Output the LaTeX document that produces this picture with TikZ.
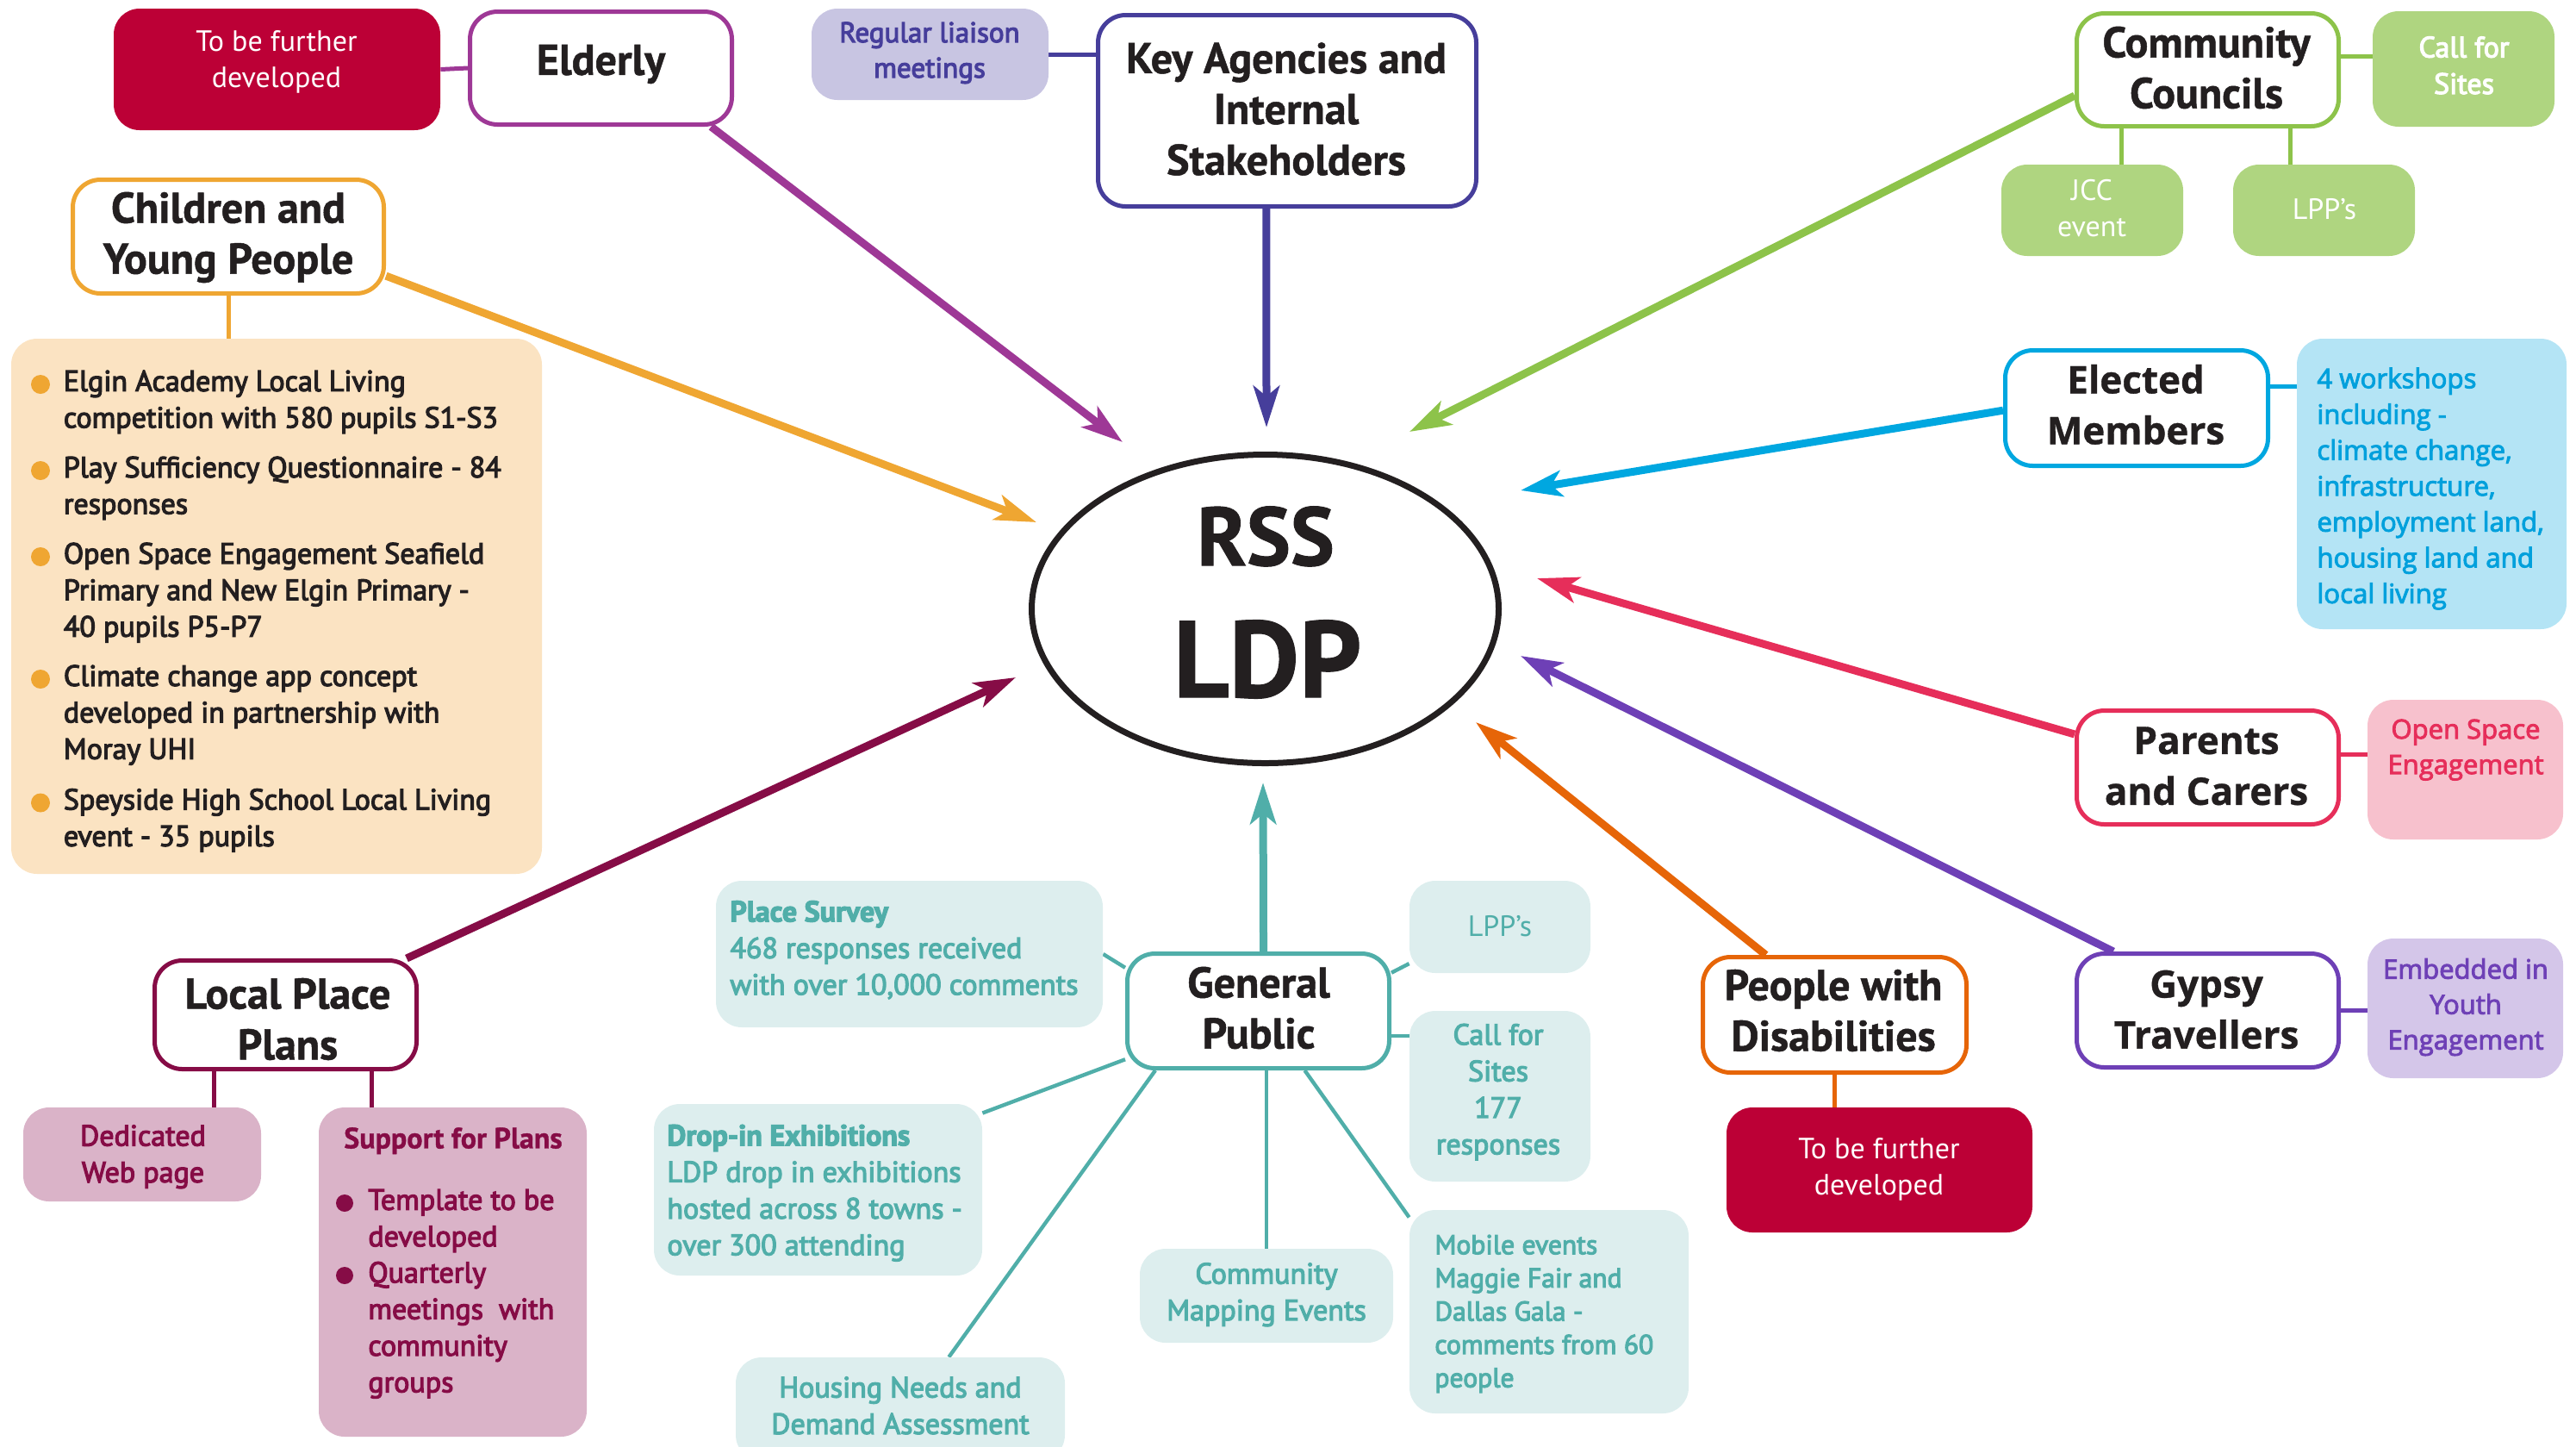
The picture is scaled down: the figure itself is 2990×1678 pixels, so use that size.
\documentclass[tikz,border=0pt]{standalone}
\usepackage{fontspec}
\setmainfont{PT Sans}[BoldFeatures={FakeBold=1}]
\newfontfamily\wide{Open Sans}[BoldFeatures={FakeBold=0.8}]
\newfontfamily\semi{PT Sans}[FakeBold=3.5]
\newfontfamily\wsemi{Open Sans}[FakeBold=3]
\usetikzlibrary{arrows.meta,shapes.geometric}
\pgfdeclarelayer{bg}
\pgfsetlayers{bg,main}
\definecolor{ink}{RGB}{35,31,32}
\definecolor{cRed}{RGB}{188,0,54}
\definecolor{cEld}{RGB}{158,56,150}
\definecolor{cKey}{RGB}{70,62,155}
\definecolor{cKeyF}{RGB}{200,197,226}
\definecolor{cGrn}{RGB}{141,195,74}
\definecolor{cGrnF}{RGB}{175,213,128}
\definecolor{cOra}{RGB}{239,166,50}
\definecolor{cOraF}{RGB}{251,227,194}
\definecolor{cCya}{RGB}{0,167,224}
\definecolor{cCyaT}{RGB}{0,160,220}
\definecolor{cCyaF}{RGB}{180,228,245}
\definecolor{cPnk}{RGB}{230,46,90}
\definecolor{cPnkF}{RGB}{247,193,205}
\definecolor{cPur}{RGB}{110,64,182}
\definecolor{cPurF}{RGB}{212,198,233}
\definecolor{cOrT}{RGB}{230,101,8}
\definecolor{cTeal}{RGB}{80,174,169}
\definecolor{cTealF}{RGB}{221,238,238}
\definecolor{cMar}{RGB}{134,12,70}
\definecolor{cMarF}{RGB}{218,179,200}
\newcommand\fTitle{\fontsize{25}{29.5}\selectfont\bfseries}
\newcommand\fWTitle{\wide\fontsize{22}{29.5}\selectfont\bfseries}
\newcommand\fSub{\fontsize{17}{21}\selectfont}
\newcommand\fSemi{\semi\fontsize{17}{21.2}\selectfont}
\newcommand\fWSemi{\wsemi\fontsize{15.5}{20.5}\selectfont}
\newcommand\fWS{\wsemi\fontsize{15.6}{20.8}\selectfont}
\newcommand\fMob{\semi\fontsize{15.8}{19.3}\selectfont}
\newcommand\fLiai{\semi\fontsize{16.5}{20.5}\selectfont}
\newcommand\fRSS{\fontsize{48}{50}\selectfont\bfseries}
\newcommand\fLDP{\fontsize{63}{66}\selectfont\bfseries}
\tikzset{
  box/.style={draw, line width=2.5pt, rounded corners=16pt, fill=white, inner sep=0pt},
  sub/.style={rounded corners=15pt, inner sep=0pt, draw=none},
  tx/.style={inner sep=0pt, align=center, execute at begin node=\strut, execute at end node=\strut, yshift=-3pt},
  ttl/.style={inner sep=0pt, align=center, execute at begin node=\strut, execute at end node=\strut, yshift=-4.5pt, text=ink},
  txl/.style={tx, align=left},
  arr/.style={line width=4.5pt, -{Stealth[length=24pt,width=15pt,inset=6pt]}},
  lnk/.style={line width=2.5pt},
  glnk/.style={line width=2.2pt, cTeal},
}
\begin{document}
\begin{tikzpicture}[x=0.5pt,y=-0.5pt]
\useasboundingbox (0,0) rectangle (2990,1678);
\clip (0,0) rectangle (2990,1678);

% ---------- centre ----------
\node[ellipse, draw=ink, line width=3.5pt, fill=white, minimum width=271pt, minimum height=179pt, inner sep=0pt] (ldp) at (1468.5,706.5) {};
\node[anchor=base, inner sep=0pt, font=\fRSS, text=ink] (rss) at (1469,656) {RSS};
\node[anchor=base, inner sep=0pt, font=\fLDP, text=ink] (ldpt) at (1471,809) {LDP};

% ---------- top left ----------
\node[sub, fill=cRed, minimum width=189.5pt, minimum height=70.5pt] (red1) at (321.5,80.5) {};
\node[tx, font=\fSub, text=white] (red1t) at (321,69) {To be further\\developed};
\node[box, draw=cEld, minimum width=152pt, minimum height=65.5pt] (elderly) at (697.5,79) {};
\node[ttl, font=\fTitle] (elderlyt) at (697.5,66) {Elderly};

\node[sub, fill=cKeyF, minimum width=137.5pt, minimum height=53pt] (liaison) at (1079.5,63) {};
\node[tx, font=\fLiai, text=cKey] (liaisont) at (1079,58) {Regular liaison\\meetings};
\node[box, draw=cKey, minimum width=219.5pt, minimum height=111pt] (keyag) at (1494,128.5) {};
\node[ttl, font=\fTitle] (keyagt) at (1493,126) {Key Agencies and\\Internal\\Stakeholders};

\node[box, draw=cOra, minimum width=180.5pt, minimum height=66pt] (cyp) at (265,274.5) {};
\node[ttl, font=\fTitle] (cypt) at (265,270) {Children and\\Young People};

\node[sub, fill=cOraF, minimum width=308pt, minimum height=310.5pt] (bullets) at (321,703.5) {};
\node[txl, font=\fSemi, text=ink, anchor=north west] (b1) at (73.5,423.3) {Elgin Academy Local Living\\competition with 580 pupils S1-S3};
\node[txl, font=\fSemi, text=ink, anchor=north west] (b2) at (73.5,523.3) {Play Sufficiency Questionnaire - 84\\responses};
\node[txl, font=\fSemi, text=ink, anchor=north west] (b3) at (73.5,623.3) {Open Space Engagement Seafield\\Primary and New Elgin Primary -\\40 pupils P5-P7};
\node[txl, font=\fSemi, text=ink, anchor=north west] (b4) at (73.5,765.3) {Climate change app concept\\developed in partnership with\\Moray UHI};
\node[txl, font=\fSemi, text=ink, anchor=north west] (b5) at (73.5,908.8) {Speyside High School Local Living\\event - 35 pupils};
\fill[cOra] (47,446) circle (5.5pt) (47,546) circle (5.5pt) (47,646) circle (5.5pt) (47,788) circle (5.5pt) (47,931.5) circle (5.5pt);

% ---------- top right ----------
\node[box, draw=cGrn, minimum width=152pt, minimum height=65.5pt] (cc) at (2562.5,81) {};
\node[ttl, font=\fTitle] (cct) at (2561,78) {Community\\Councils};
\node[sub, fill=cGrnF, minimum width=105.5pt, minimum height=67pt] (cfs1) at (2859.5,80) {};
\node[tx, font=\fSemi, text=white] (cfs1t) at (2860,76) {Call for\\Sites};
\node[sub, fill=cGrnF, minimum width=105.5pt, minimum height=53pt] (jcc) at (2428.5,244) {};
\node[tx, font=\fSub, text=white] (jcct) at (2428,242) {JCC\\event};
\node[sub, fill=cGrnF, minimum width=105.5pt, minimum height=53pt] (lpp1) at (2697.5,244) {};
\node[tx, font=\fSub, text=white] (lpp1t) at (2698,240) {LPP’s};

\node[box, draw=cCya, minimum width=152.5pt, minimum height=67pt] (em) at (2480,473.5) {};
\node[ttl, font=\fWTitle] (emt) at (2479,469) {Elected\\Members};
\node[sub, fill=cCyaF, minimum width=156.5pt, minimum height=168.5pt] (ws) at (2822.5,561.5) {};
\node[txl, font=\fWS, text=cCyaT, anchor=west] (wst) at (2689,563.5) {4 workshops\\including -\\climate change,\\infrastructure,\\employment land,\\housing land and\\local living};

\node[box, draw=cPnk, minimum width=152pt, minimum height=66pt] (pc) at (2562.5,890.5) {};
\node[ttl, font=\fWTitle] (pct) at (2561,888.5) {Parents\\and Carers};
\node[sub, fill=cPnkF, minimum width=113.5pt, minimum height=81pt] (ose) at (2861.5,893) {};
\node[tx, font=\fWSemi, text=cPnk] (oset) at (2862,866.5) {Open Space\\Engagement};

\node[box, draw=cPur, minimum width=152pt, minimum height=66pt] (gt) at (2562.5,1172.5) {};
\node[ttl, font=\fWTitle] (gtt) at (2561,1171) {Gypsy\\Travellers};
\node[sub, fill=cPurF, minimum width=113.5pt, minimum height=81pt] (eye) at (2861.5,1170) {};
\node[tx, font=\fWSemi, text=cPur] (eyet) at (2862,1165) {Embedded in\\Youth\\Engagement};

\node[box, draw=cOrT, minimum width=153pt, minimum height=67pt] (pwd) at (2129.5,1177.5) {};
\node[ttl, font=\fTitle] (pwdt) at (2128,1172) {People with\\Disabilities};
\node[sub, fill=cRed, minimum width=177.5pt, minimum height=72.5pt] (red2) at (2181.5,1357.5) {};
\node[tx, font=\fSub, text=white] (red2t) at (2181,1354) {To be further\\developed};

% ---------- general public ----------
\node[box, draw=cTeal, minimum width=152pt, minimum height=66.5pt] (gp) at (1460.5,1173) {};
\node[ttl, font=\fTitle] (gpt) at (1461,1169) {General\\Public};
\node[sub, fill=cTealF, minimum width=224.5pt, minimum height=85pt] (ps) at (1055.5,1107) {};
\node[txl, font=\fSemi, text=cTeal, anchor=west] (pst) at (847,1100) {\textbf{Place Survey}\\468 responses received\\with over 10,000 comments};
\node[sub, fill=cTealF, minimum width=105pt, minimum height=53.5pt] (lpp2) at (1741,1075.5) {};
\node[tx, font=\fSub, text=cTeal] (lpp2t) at (1741,1072) {LPP’s};
\node[sub, fill=cTealF, minimum width=105pt, minimum height=99pt] (cfs2) at (1741,1272) {};
\node[tx, font=\fSemi, text=cTeal] (cfs2t) at (1739,1264) {Call for\\Sites\\177\\responses};
\node[sub, fill=cTealF, minimum width=190.5pt, minimum height=99.5pt] (drop) at (949.5,1380.5) {};
\node[txl, font=\fSemi, text=cTeal, anchor=west] (dropt) at (774,1381) {\textbf{Drop-in Exhibitions}\\LDP drop in exhibitions\\hosted across 8 towns -\\over 300 attending};
\node[sub, fill=cTealF, minimum width=147pt, minimum height=54.5pt] (cme) at (1470,1503.5) {};
\node[tx, font=\fSemi, text=cTeal] (cmet) at (1470,1499) {Community\\Mapping Events};
\node[sub, fill=cTealF, minimum width=162pt, minimum height=118pt] (mob) at (1798,1522) {};
\node[txl, font=\fMob, text=cTeal, anchor=west] (mobt) at (1665,1521) {Mobile events\\Maggie Fair and\\Dallas Gala -\\comments from 60\\people};
\node[sub, fill=cTealF, minimum width=191pt, minimum height=60pt] (hna) at (1045,1635) {};
\node[tx, font=\fSemi, text=cTeal] (hnat) at (1045,1631) {Housing Needs and\\Demand Assessment};

% ---------- local place plans ----------
\node[box, draw=cMar, minimum width=152pt, minimum height=63pt] (lppl) at (331.5,1177.5) {};
\node[ttl, font=\fTitle] (lpplt) at (334,1182) {Local Place\\Plans};
\node[sub, fill=cMarF, minimum width=138pt, minimum height=54.5pt] (dwp) at (165,1339.5) {};
\node[tx, font=\fSemi, text=cMar] (dwpt) at (166,1339) {Dedicated\\Web page};
\node[sub, fill=cMarF, minimum width=155.5pt, minimum height=191pt] (sfp) at (525.5,1476) {};
\node[tx, font=\fSub\bfseries, text=cMar] (sfpt) at (526,1318) {Support for Plans};
\node[txl, font=\fSemi, text=cMar, anchor=north west] (s1) at (427,1373.6) {Template to be\\developed};
\node[txl, font=\fSemi, text=cMar, anchor=north west] (s2) at (427,1457.6) {Quarterly\\meetings\ \ with\\community\\groups};
\fill[cMar] (400,1396) circle (5pt) (400,1480) circle (5pt);

% ---------- tips ----------
\coordinate (t1) at (1303,513);
\coordinate (t2) at (1470,496);
\coordinate (t3) at (1636,501);
\coordinate (t4) at (1203,606);
\coordinate (t5) at (1765,569);
\coordinate (t6) at (1784,671);
\coordinate (t7) at (1765,761);
\coordinate (t8) at (1713,838);
\coordinate (t9) at (1466,908);
\coordinate (t10) at (1179,786);

\begin{pgfonlayer}{bg}
\draw[arr, color=cEld] (elderly.-28) -- (t1);
\draw[arr, color=cKey] (keyag.-102) -- (t2);
\draw[arr, color=cGrn] (cc.191) -- (t3);
\draw[arr, color=cOra] (cyp.-14) -- (t4);
\draw[arr, color=cCya] (em.181) -- (t5);
\draw[arr, color=cPnk] (pc.166) -- (t6);
\draw[arr, color=cPur] (gt.148) -- (t7);
\draw[arr, color=cOrT] (pwd.139) -- (t8);
\draw[arr, color=cTeal] (gp.85) -- (t9);
\draw[arr, color=cMar] (lppl.25) -- (t10);

\draw[lnk, cEld] (red1.east) -- (elderly.west);
\draw[lnk, cKey] (liaison.east) -- (liaison.east -| keyag.west);
\draw[lnk, cGrn] ([yshift=7.5pt]cfs1.west) -- ([yshift=7.5pt]cfs1.west -| cc.east);
\draw[lnk, cGrn] ([xshift=16.75pt]jcc.north) -- ([xshift=16.75pt]jcc.north |- cc.south);
\draw[lnk, cGrn] ([xshift=-19.75pt]lpp1.north) -- ([xshift=-19.75pt]lpp1.north |- cc.south);
\draw[lnk, cOra] (cyp.south) -- (cyp.south |- bullets.north);
\draw[lnk, cCya] ([yshift=12.75pt]em.east) -- ([yshift=12.75pt]em.east -| ws.west);
\draw[lnk, cPnk] ([yshift=7.75pt]pc.east) -- ([yshift=7.75pt]pc.east -| ose.west);
\draw[lnk, cPur] (gt.east) -- (gt.east -| eye.west);
\draw[lnk, cOrT] (pwd.south) -- (pwd.south |- red2.north);
\draw[lnk, cMar] ([xshift=-41.75pt]lppl.south) -- ([xshift=-41.75pt]lppl.south |- dwp.north);
\draw[lnk, cMar] ([xshift=49.75pt]lppl.south) -- ([xshift=49.75pt]lppl.south |- sfp.north);

\draw[glnk] (gp.162) -- (ps.east);
\draw[glnk] (gp.16) -- (lpp2.202);
\draw[glnk] ([yshift=-14.5pt]gp.east) -- ([yshift=-14.5pt]gp.east -| cfs2.west);
\draw[glnk] (gp.200) -- (drop.25);
\draw[glnk] (gp.210) -- (hna.47);
\draw[glnk] (cme.north) -- (cme.north |- gp.south);
\draw[glnk] (gp.-52) -- (mob.146);
\end{pgfonlayer}
\end{tikzpicture}
\end{document}
